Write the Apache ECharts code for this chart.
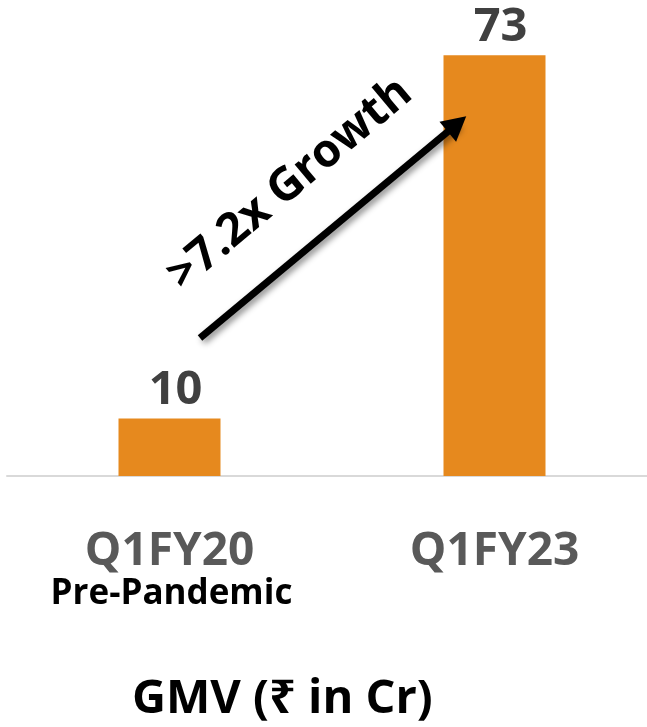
<!DOCTYPE html>
<html>
<head>
<meta charset="utf-8">
<script src="https://cdn.jsdelivr.net/npm/echarts@6/dist/echarts.min.js"></script>
<style>
  html, body { margin: 0; padding: 0; background: #fff; overflow: hidden; }
  #chart { width: 660px; height: 727px; }
</style>
</head>
<body>
<div id="chart"></div>
<script>
const categories = ['Q1FY20', 'Q1FY23']
const subLabels = ['Pre-Pandemic', '']
const gmv = [10, 73]
const growthText = '>7.2x Growth'
const titleText = 'GMV (₹ in Cr)'

const FONT = "'Open Sans', 'Noto Sans', sans-serif"

const chart = echarts.init(document.getElementById('chart'))

const option = {
  backgroundColor: '#fff',
  animation: false,
  title: {
    text: titleText,
    left: 127,
    top: 671,
    textStyle: { fontFamily: FONT, fontSize: 47, fontWeight: 'bold', color: '#000' }
  },
  // chart box is wider than the window so the two categories sit where the original has them
  grid: { left: 7, right: 3, top: 15, bottom: 251, containLabel: false },
  xAxis: {
    type: 'category',
    data: categories,
    axisLine: { lineStyle: { color: '#d9d9d9', width: 2 } },
    axisTick: { show: false },
    axisLabel: {
      margin: 51,
      interval: 0,
      formatter: function (value, idx) {
        return subLabels[idx] ? '{a|' + value + '}\n{b|' + subLabels[idx] + '}' : '{a|' + value + '}'
      },
      rich: {
        a: { fontFamily: FONT, fontSize: 46, fontWeight: 'bold', color: '#595959', lineHeight: 50 },
        b: { fontFamily: FONT, fontSize: 35, fontWeight: 'bold', color: '#000', lineHeight: 34, padding: [0, 0, 0, 4] }
      }
    }
  },
  yAxis: { type: 'value', min: 0, max: 80, show: false, splitLine: { show: false } },
  series: [{
    type: 'bar',
    data: gmv,
    barWidth: 102,
    itemStyle: { color: '#e6891e' },
    label: {
      show: true,
      position: 'top',
      distance: 4,
      offset: [6, 0],
      fontFamily: FONT,
      fontSize: 47,
      fontWeight: 'bold',
      color: '#404040'
    },
    markLine: {
      silent: true,
      symbol: ['none', 'triangle'],
      symbolSize: [26, 24],
      label: { show: false },
      lineStyle: {
        color: '#000',
        width: 7,
        type: 'solid',
        shadowBlur: 6,
        shadowColor: 'rgba(0,0,0,0.45)',
        shadowOffsetX: 3,
        shadowOffsetY: 3
      },
      data: [[{ x: 200, y: 338 }, { x: 457, y: 124 }]]
    }
  }],
  graphic: [{
    type: 'text',
    x: 290,
    y: 184,
    rotation: 40 * Math.PI / 180,
    style: {
      text: growthText,
      fontFamily: FONT,
      fontSize: 46,
      fontWeight: 'bold',
      fill: '#000',
      align: 'center',
      verticalAlign: 'middle'
    }
  }]
}

chart.setOption(option)
</script>
</body>
</html>
